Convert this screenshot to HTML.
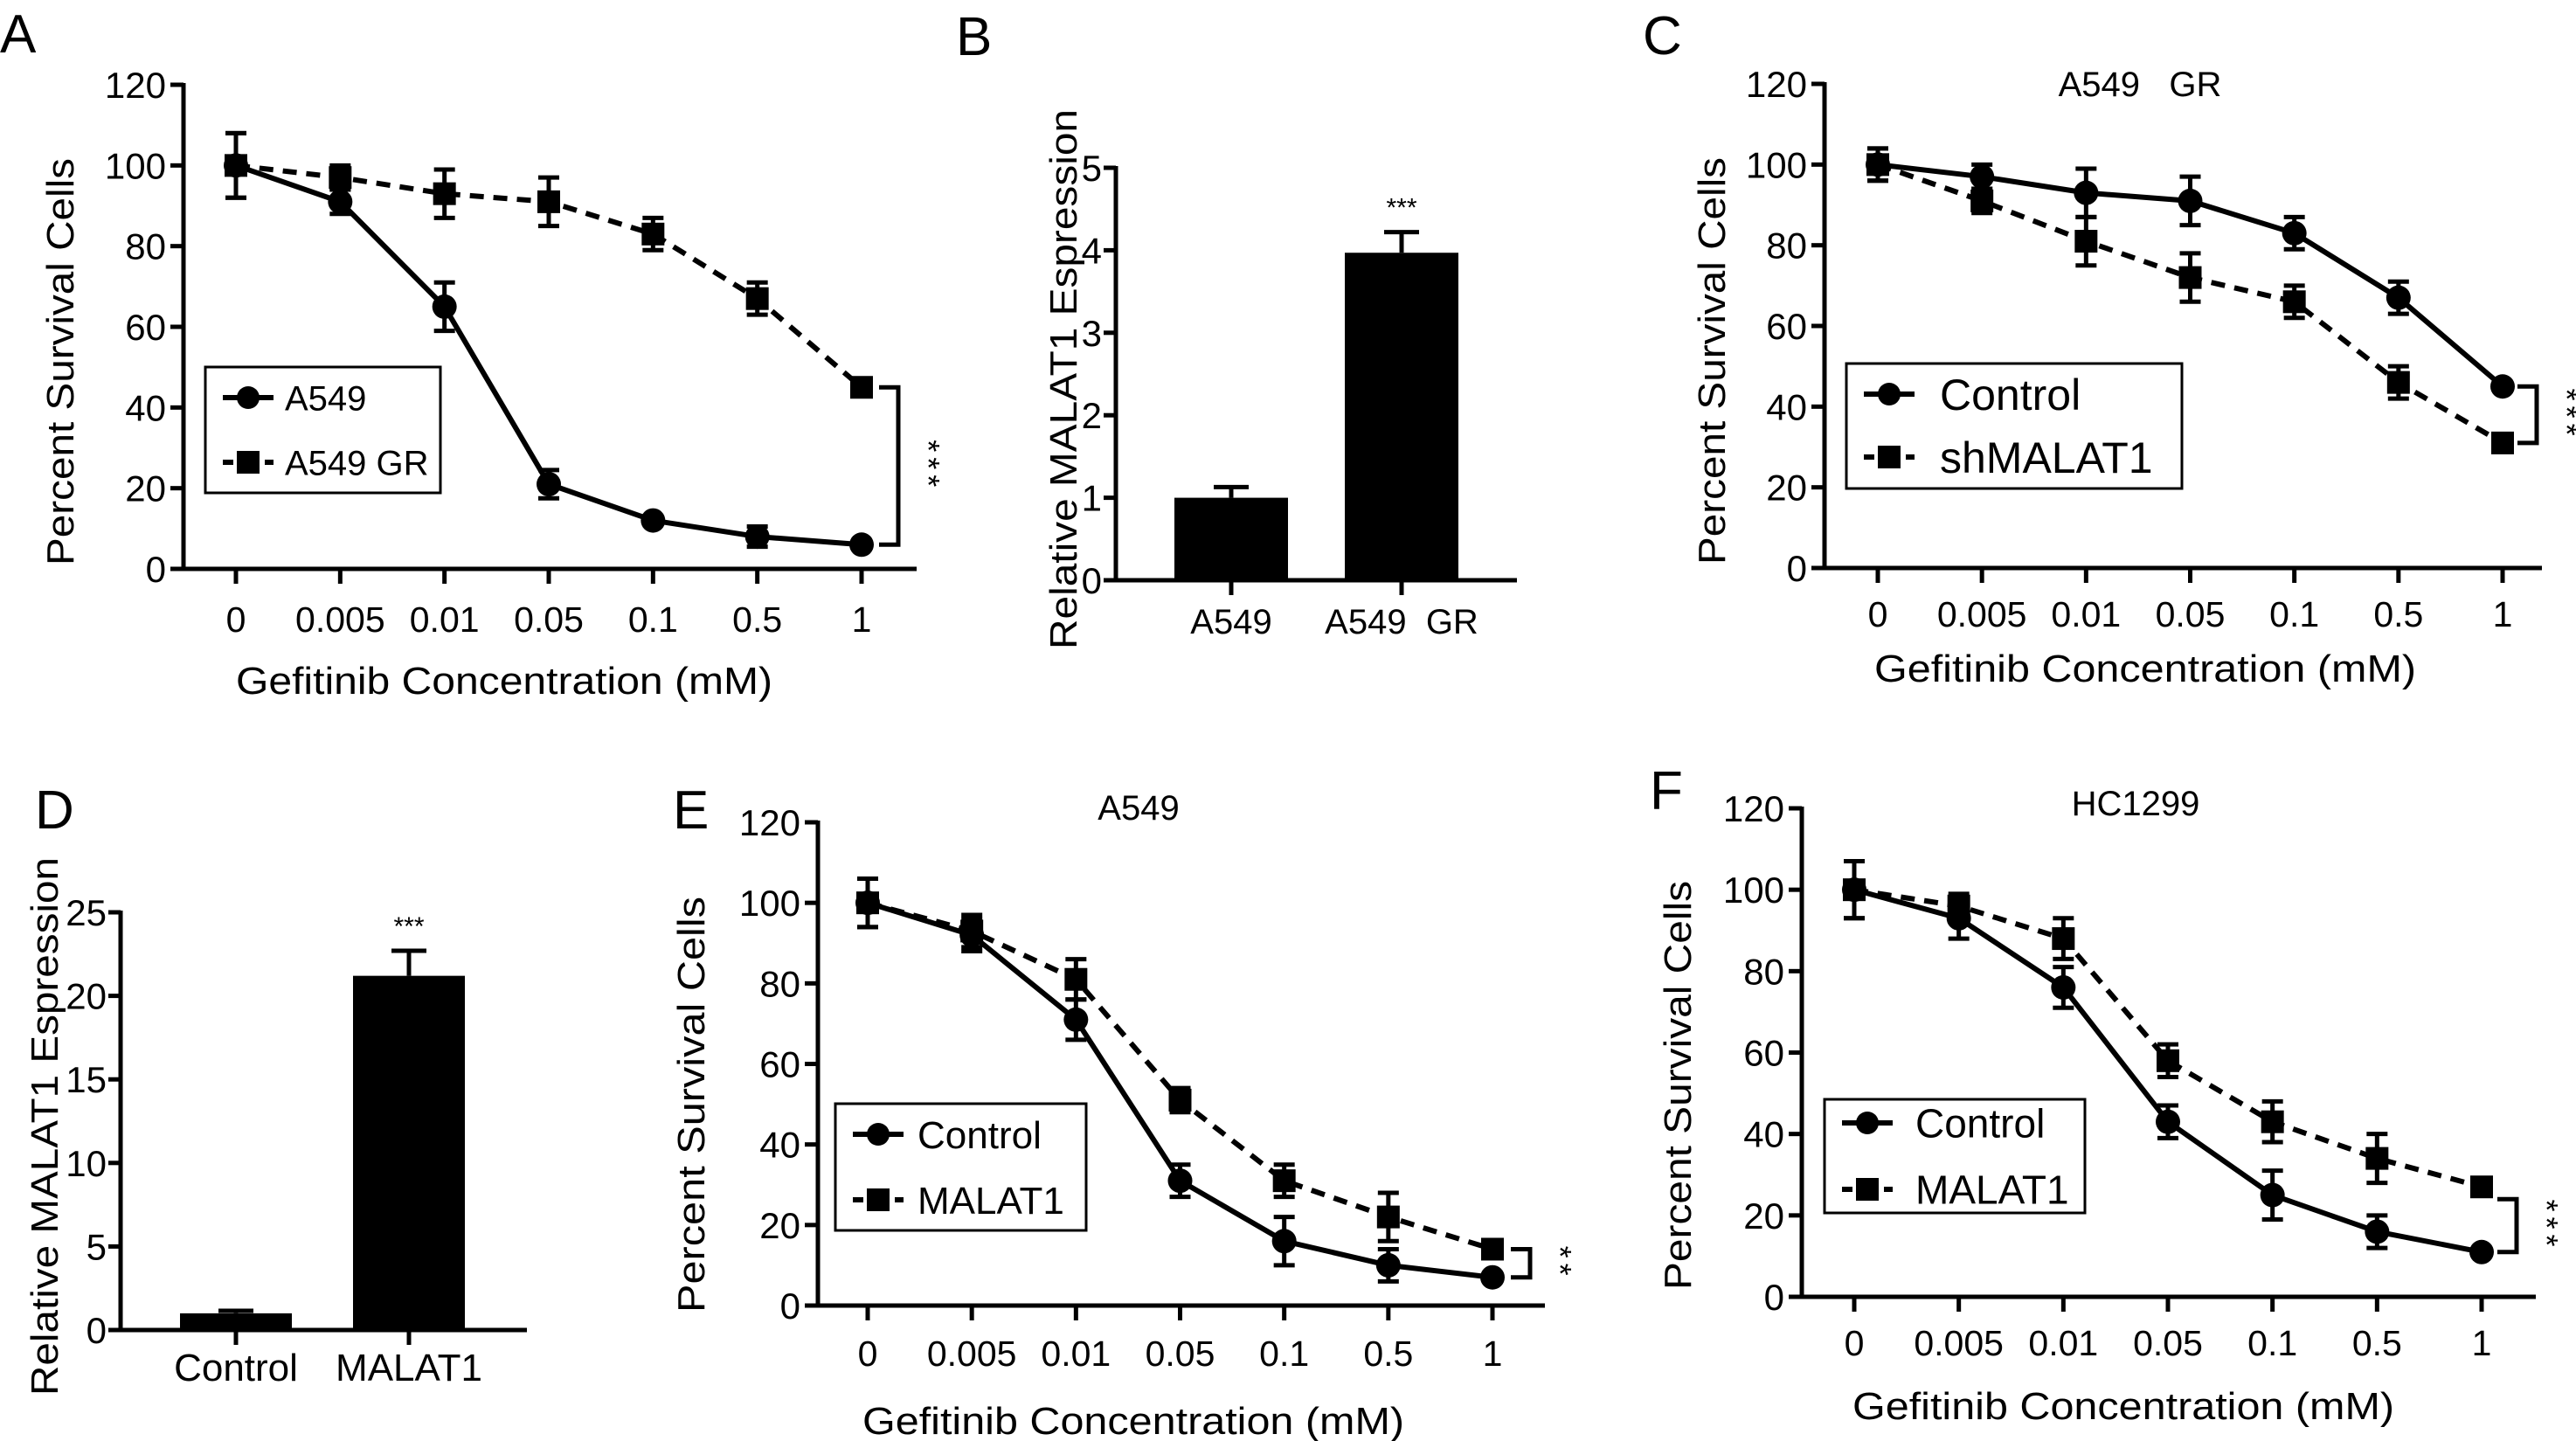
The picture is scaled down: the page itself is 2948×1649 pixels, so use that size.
<!DOCTYPE html>
<html><head><meta charset="utf-8"><style>
html,body{margin:0;padding:0;background:#fff;}
svg{display:block;font-family:"Liberation Sans",Arial,sans-serif;}
</style></head><body>
<svg id="fig" width="2948" height="1649" viewBox="0 0 2948 1649" xmlns="http://www.w3.org/2000/svg">
<rect width="2948" height="1649" fill="#fff"/>
</svg>
<script>
// ---- data ----
const doseLabels = ["0","0.005","0.01","0.05","0.1","0.5","1"];
const survTicks = [0,20,40,60,80,100,120];
const aA549 = [100,91,65,21,12,8,6];
const aA549Err = [8,3,6,3.5,0,2.5,0];
const aGR = [100,97,93,91,83,67,45];
const aGRErr = [8,3,6,6,4,4,0];
const bCats = ["A549","A549\u00a0\u00a0GR"];
const bVals = [1.0,3.97];
const bErr = [0.13,0.25];
const bTicks = [0,1,2,3,4,5];
const cCtrl = [100,97,93,91,83,67,45];
const cCtrlErr = [4,3,6,6,4,4,0];
const cSh = [100,91,81,72,66,46,31];
const cShErr = [4,3,6,6,4,4,0];
const dCats = ["Control","MALAT1"];
const dVals = [1.0,21.2];
const dErr = [0.15,1.5];
const dTicks = [0,5,10,15,20,25];
const eCtrl = [100,92,71,31,16,10,7];
const eCtrlErr = [6,4,5,4,6,4,0];
const eMal = [100,93,81,51,31,22,14];
const eMalErr = [6,4,5,3,4,6,0];
const fCtrl = [100,93,76,43,25,16,11];
const fCtrlErr = [7,5,5,4,6,4,0];
const fMal = [100,96,88,58,43,34,27];
const fMalErr = [7,3,5,4,5,6,0];

const NS="http://www.w3.org/2000/svg";
const svg=document.getElementById('fig');
function mk(tag,attrs,parent,txt){const e=document.createElementNS(NS,tag);for(const k in attrs)e.setAttribute(k,attrs[k]);if(txt!==undefined)e.textContent=txt;(parent||svg).appendChild(e);return e;}
function line(g,x1,y1,x2,y2,w,dash){const l=mk('line',{x1,y1,x2,y2,stroke:'#000','stroke-width':w||5},g);if(dash)l.setAttribute('stroke-dasharray',dash);return l;}
function txt(g,x,y,s,size,anchor,extra){const t=mk('text',Object.assign({x,y,'font-size':size,'text-anchor':anchor||'middle',fill:'#000'},extra||{}),g,s);return t;}
function letter(x,y,s){const t=txt(svg,x,y,s,62,'start');}

function linePanel(p){
  const g=mk('g',{});
  
  
  const ys=v=>p.y0+(p.y120-p.y0)*v/120;
  const xs=i=>p.x0+(p.x1-p.x0)*i/6;
  const ax=mk('g',{},g);
  
  
  line(ax,p.ax,p.y120-2,p.ax,p.y0+2);
  survTicks.forEach(v=>{line(ax,p.ax-15,ys(v),p.ax,ys(v));const t=txt(ax,p.ax-20,ys(v)+15,String(v),42,'end');});
  const xa=mk('g',{},g);
  
  
  line(xa,p.ax-15,p.y0,p.xend,p.y0);
  doseLabels.forEach((s,i)=>{line(xa,xs(i),p.y0,xs(i),p.y0+17);const t=txt(xa,xs(i),p.tly,s,41);});
  const xt=txt(g,p.xtx,p.xty,'Gefitinib Concentration (mM)',44,'middle',{textLength:p.xtl,lengthAdjust:'spacingAndGlyphs'});
  
  
  const yc=(p.ytA+p.ytB)/2;
  const yt=txt(g,0,0,'Percent Survival Cells',44,'middle',{transform:`translate(${p.ytx},${yc}) rotate(-90)`,textLength:p.ytB-p.ytA,lengthAdjust:'spacingAndGlyphs'});
  
  
  if(p.title){const t=txt(g,p.tx,p.ty,p.title,40);}
  p.series.forEach((s,si)=>{
    const sg=mk('g',{},g);
    
    
    const pts=s.vals.map((v,i)=>xs(i)+','+ys(v)).join(' ');
    const pl=mk('polyline',{points:pts,fill:'none',stroke:'#000','stroke-width':6,'stroke-linejoin':'round'},sg);
    if(s.dash)pl.setAttribute('stroke-dasharray','16 11');
    s.vals.forEach((v,i)=>{
      const e=s.err[i];
      if(e>0){line(sg,xs(i),ys(v+e),xs(i),ys(v-e),5);line(sg,xs(i)-12,ys(v+e),xs(i)+12,ys(v+e),5);line(sg,xs(i)-12,ys(v-e),xs(i)+12,ys(v-e),5);}
      let m;
      if(s.sq){m=mk('rect',{x:xs(i)-13,y:ys(v)-13,width:26,height:26,fill:'#000'},sg);}
      else{m=mk('circle',{cx:xs(i),cy:ys(v),r:14,fill:'#000'},sg);}
      
      
    });
  });
  const lg=mk('g',{},g);
  
  
  mk('rect',{x:p.lx,y:p.ly,width:p.lw,height:p.lh,fill:'none',stroke:'#000','stroke-width':3},lg);
  p.series.forEach((s,si)=>{
    const ey=si===0?p.le1:p.le2;
    const eg=mk('g',{},lg);
    
    
    const sx=p.lx+20;
    const l=line(eg,sx,ey,sx+58,ey,6);
    if(s.dash)l.setAttribute('stroke-dasharray','12 12');
    if(s.sq)mk('rect',{x:sx+29-13,y:ey-13,width:26,height:26,fill:'#000'},eg);
    else mk('circle',{cx:sx+29,cy:ey,r:13,fill:'#000'},eg);
    txt(eg,p.ltx,ey+p.lfs*0.36,s.name,p.lfs,'start');
  });
  const bg=mk('g',{},g);
  
  
  const bt=ys(p.bTop),bb=ys(p.bBot);
  mk('polyline',{points:`${p.bx-22},${bt} ${p.bx},${bt} ${p.bx},${bb} ${p.bx-22},${bb}`,fill:'none',stroke:'#000','stroke-width':5},bg);
  const st=txt(bg,0,0,p.stars,36,'middle',{transform:`translate(${p.bx+22},${(bt+bb)/2}) rotate(90)`});
  st.setAttribute('letter-spacing','6');
}

function barPanel(p){
  const g=mk('g',{});
  
  
  const max=p.ticks[p.ticks.length-1];
  const ys=v=>p.y0+(p.ytop-p.y0)*v/max;
  const ax=mk('g',{},g);
  
  
  line(ax,p.ax,p.ytop-2,p.ax,p.y0+2);
  p.ticks.forEach(v=>{line(ax,p.ax-14,ys(v),p.ax,ys(v));const t=txt(ax,p.ax-16,ys(v)+15,String(v),42,'end');});
  const xa=mk('g',{},g);
  
  
  line(xa,p.ax,p.y0,p.xend,p.y0);
  p.cats.forEach((c,i)=>{
    const cx=p.cx[i];
    line(xa,cx,p.y0,cx,p.y0+17);
    const t=txt(xa,cx,p.tly,c,p.cfs);
    const bar=mk('rect',{x:cx-p.bw/2,y:ys(p.vals[i]),width:p.bw,height:p.y0-ys(p.vals[i]),fill:'#000'},g);
    
    
    const et=ys(p.vals[i]+p.err[i]);
    line(g,cx,et,cx,ys(p.vals[i]),5);line(g,cx-20,et,cx+20,et,5);
  });
  const s=txt(g,p.cx[1],ys(p.vals[1]+p.err[1])-18,'***',30);
  
  
  const yc=(p.ytA+p.ytB)/2;
  const yt=txt(g,0,0,'Relative MALAT1 Espression',44,'middle',{transform:`translate(${p.ytx},${yc}) rotate(-90)`,textLength:p.ytB-p.ytA,lengthAdjust:'spacingAndGlyphs'});
  
  
}

letter(0,60,'A');letter(1094,63,'B');letter(1880,62,'C');
letter(40,948,'D');letter(770,948,'E');letter(1888,926,'F');

linePanel({id:'a',ax:210,y0:651,y120:97,x0:270,x1:986,xend:1049,tly:723,xtx:577,xty:794,xtl:614,ytx:84,ytA:181,ytB:647,
  series:[{name:'A549',vals:aA549,err:aA549Err,sq:false,dash:false},{name:'A549 GR',vals:aGR,err:aGRErr,sq:true,dash:true}],
  lx:235,ly:420,lw:269,lh:144,le1:455,le2:529,ltx:326,lfs:40,bx:1028,bTop:45,bBot:6,stars:'***'});
barPanel({id:'b',ax:1277,y0:664,ytop:192,xend:1736,ticks:bTicks,cats:bCats,vals:bVals,err:bErr,cx:[1409,1604],bw:130,tly:725,cfs:40,ytx:1232,ytA:125,ytB:743});
linePanel({id:'c',ax:2088,y0:650,y120:96,x0:2149,x1:2864,xend:2909,tly:717,xtx:2455,xty:780,xtl:620,ytx:1974,ytA:180,ytB:646,title:'A549\u00a0\u00a0\u00a0GR',tx:2449,ty:110,
  series:[{name:'Control',vals:cCtrl,err:cCtrlErr,sq:false,dash:false},{name:'shMALAT1',vals:cSh,err:cShErr,sq:true,dash:true}],
  lx:2113,ly:416,lw:384,lh:143,le1:451,le2:523,ltx:2220,lfs:50,bx:2903,bTop:45,bBot:31,stars:'***'});
barPanel({id:'d',ax:138,y0:1522,ytop:1044,xend:603,ticks:dTicks,cats:dCats,vals:dVals,err:dErr,cx:[270,468],bw:128,tly:1580,cfs:44,ytx:66,ytA:981,ytB:1597});
linePanel({id:'e',ax:936,y0:1494,y120:941,x0:993,x1:1708,xend:1768,tly:1563,xtx:1297,xty:1641,xtl:620,ytx:806,ytA:1026,ytB:1502,title:'A549',tx:1303,ty:938,
  series:[{name:'Control',vals:eCtrl,err:eCtrlErr,sq:false,dash:false},{name:'MALAT1',vals:eMal,err:eMalErr,sq:true,dash:true}],
  lx:956,ly:1263,lw:287,lh:145,le1:1298,le2:1373,ltx:1050,lfs:44,bx:1751,bTop:14,bBot:7,stars:'**'});
linePanel({id:'f',ax:2062,y0:1484,y120:925,x0:2122,x1:2840,xend:2902,tly:1551,xtx:2430,xty:1624,xtl:620,ytx:1935,ytA:1008,ytB:1476,title:'HC1299',tx:2444,ty:933,
  series:[{name:'Control',vals:fCtrl,err:fCtrlErr,sq:false,dash:false},{name:'MALAT1',vals:fMal,err:fMalErr,sq:true,dash:true}],
  lx:2088,ly:1258,lw:298,lh:130,le1:1285,le2:1361,ltx:2192,lfs:46,bx:2880,bTop:24,bBot:11,stars:'***'});
</script>
</body></html>
